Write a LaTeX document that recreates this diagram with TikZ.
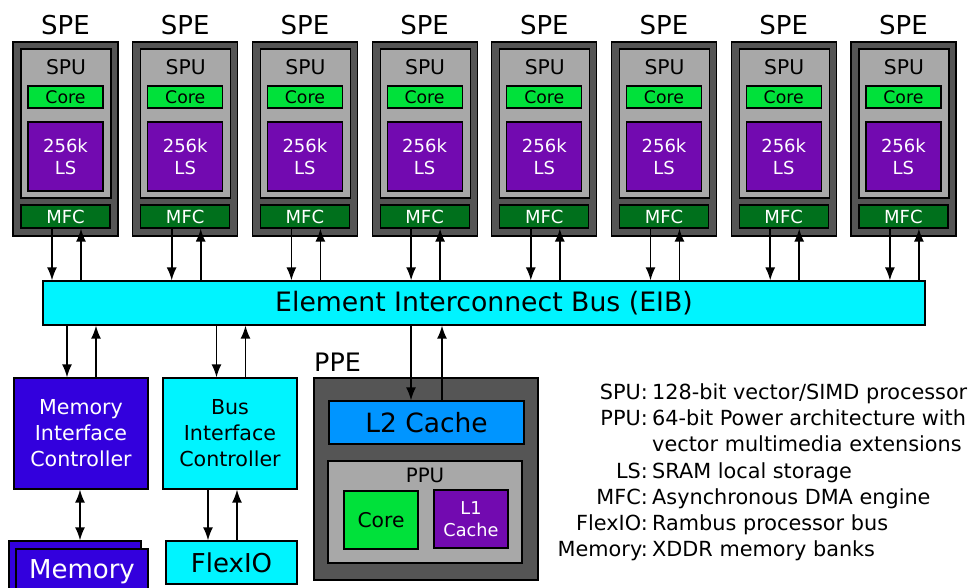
\documentclass[tikz,border=0pt]{standalone}
\usepackage{fontspec}
\setmainfont{DejaVu Sans}
\usetikzlibrary{arrows.meta}

\definecolor{spegray}{HTML}{555555}
\definecolor{spugray}{HTML}{A8A8A8}
\definecolor{coregreen}{HTML}{00E13A}
\definecolor{lspurple}{HTML}{720AB0}
\definecolor{mfcgreen}{HTML}{00701C}
\definecolor{eibcyan}{HTML}{00F4FF}
\definecolor{micblue}{HTML}{3300DD}
\definecolor{l2blue}{HTML}{0095FF}

\newcommand\fsz[2]{\fontsize{#1}{#2}\selectfont}

\begin{document}
\begin{tikzpicture}[x=1pt,y=-1pt,
  box/.style n args={2}{draw=black,line width=1.2pt,inner sep=0pt,
    minimum width=#1,minimum height=#2,align=center},
  lbl/.style={inner sep=0pt,align=center},
  keylbl/.style={inner sep=0pt,anchor=base east,font=\fsz{20.8}{26}},
  vallbl/.style={inner sep=0pt,anchor=base west,font=\fsz{20.8}{26}},
  arr/.style={line width=1.6pt,-{Latex[length=13pt,width=10pt]}},
  darr/.style={line width=1.6pt,{Latex[length=13pt,width=10pt]}-{Latex[length=13pt,width=10pt]}},
]
\useasboundingbox (0,0) rectangle (971,587);
\clip (0,0) rectangle (971,587);

% Element Interconnect Bus
\node[box={882}{44},fill=eibcyan,font=\fsz{26.7}{30}] (eib) at (484,303) {Element Interconnect Bus (EIB)};

% The eight synergistic processing elements
\foreach \i in {0,...,7}{
  \pgfmathsetmacro\xo{13+119.7*\i}
  \node[lbl,anchor=base,font=\fsz{26}{30}] (spelbl\i) at (\xo+52.5,34) {SPE};
  \node[box={105}{194},fill=spegray] (spe\i) at (\xo+52.5,139) {};
  \node[box={90}{149},fill=spugray] (spu\i) at (\xo+53,123.5) {};
  \node[lbl,anchor=base,font=\fsz{20.3}{24}] (spulbl\i) at (\xo+53,74) {SPU};
  \node[box={75}{22},fill=coregreen,font=\fsz{17.3}{20}] (core\i) at (\xo+52.5,97) {Core};
  \node[box={75}{69},fill=lspurple,text=white,font=\fsz{18}{22}] (ls\i) at (\xo+52.5,156.5) {256k\\LS};
  \node[box={89}{23},fill=mfcgreen,text=white,font=\fsz{18}{20}] (mfc\i) at (\xo+52.5,216.5) {MFC};
  \path ([xshift=-13.5]mfc\i.south) coordinate (d\i)
        ([xshift=15.5]mfc\i.south) coordinate (u\i);
  \draw[arr] (d\i) -- (d\i |- eib.north);
  \draw[arr] (u\i |- eib.north) -- (u\i);
}

% Memory interface controller and memory banks
\node[box={134}{111},fill=micblue,text=white,font=\fsz{20.6}{26}] (mic) at (81,433.5) {Memory\\Interface\\Controller};
\node[box={132}{59},fill=micblue] (memback) at (75,570.5) {};
\node[box={132}{56},fill=micblue] (memfront) at (82,577) {};
\node[lbl,anchor=base,text=white,font=\fsz{26}{30}] (memlbl) at (82,578) {Memory};
\path ([xshift=-14]mic.north) coordinate (m1) ([xshift=15]mic.north) coordinate (m2);
\draw[arr] (m1 |- eib.south) -- (m1);
\draw[arr] (m2) -- (m2 |- eib.south);
\path ([xshift=-1]mic.south) coordinate (m3);
\draw[darr] (m3) -- (m3 |- memback.north);

% Bus interface controller and FlexIO
\node[box={134}{111},fill=eibcyan,font=\fsz{20.6}{26}] (bic) at (230,433.5) {Bus\\Interface\\Controller};
\node[box={131}{43},fill=eibcyan,font=\fsz{26}{30}] (flexio) at (231.5,562.5) {FlexIO};
\path ([xshift=-13.5]bic.north) coordinate (b1) ([xshift=15.5]bic.north) coordinate (b2);
\draw[arr] (b1 |- eib.south) -- (b1);
\draw[arr] (b2) -- (b2 |- eib.south);
\path ([xshift=-22]bic.south) coordinate (f1) ([xshift=7]bic.south) coordinate (f2);
\draw[arr] (f1) -- (f1 |- flexio.north);
\draw[arr] (f2 |- flexio.north) -- (f2);

% Power processing element
\node[lbl,anchor=base west,font=\fsz{25.4}{30}] (ppelbl) at (314,371) {PPE};
\node[box={224}{202},fill=spegray] (ppe) at (426,479) {};
\node[box={195}{43},fill=l2blue,font=\fsz{26.5}{30}] (l2) at (426.5,422.5) {L2 Cache};
\node[box={194}{102},fill=spugray] (ppu) at (425,512) {};
\node[lbl,anchor=base,font=\fsz{19.8}{24}] (ppulbl) at (425,482) {PPU};
\node[box={74}{58},fill=coregreen,line width=2pt,font=\fsz{20.3}{24}] (ppecore) at (381,520) {Core};
\node[box={74}{58},fill=lspurple,text=white,font=\fsz{17.7}{22}] (l1) at (471,519) {L1\\Cache};
\path ([xshift=-15.5]l2.north) coordinate (p1) ([xshift=15.5]l2.north) coordinate (p2);
\draw[arr] (p1 |- eib.south) -- (p1);
\draw[arr] (p2) -- (p2 |- eib.south);

% Glossary
\node[keylbl] (key1) at (648,399.5) {SPU:};
\node[vallbl] (val1) at (652,399.5) {128-bit vector/SIMD processor};
\node[keylbl] (key2) at (648,425.7) {PPU:};
\node[vallbl] (val2) at (652,425.7) {64-bit Power architecture with};
\node[vallbl] (val2b) at (652,451.9) {vector multimedia extensions};
\node[keylbl] (key3) at (648,478.1) {LS:};
\node[vallbl] (val3) at (652,478.1) {SRAM local storage};
\node[keylbl] (key4) at (648,504.3) {MFC:};
\node[vallbl] (val4) at (652,504.3) {Asynchronous DMA engine};
\node[keylbl] (key5) at (648,530.5) {FlexIO:};
\node[vallbl] (val5) at (652,530.5) {Rambus processor bus};
\node[keylbl] (key6) at (648,556.7) {Memory:};
\node[vallbl] (val6) at (652,556.7) {XDDR memory banks};
\end{tikzpicture}
\end{document}
